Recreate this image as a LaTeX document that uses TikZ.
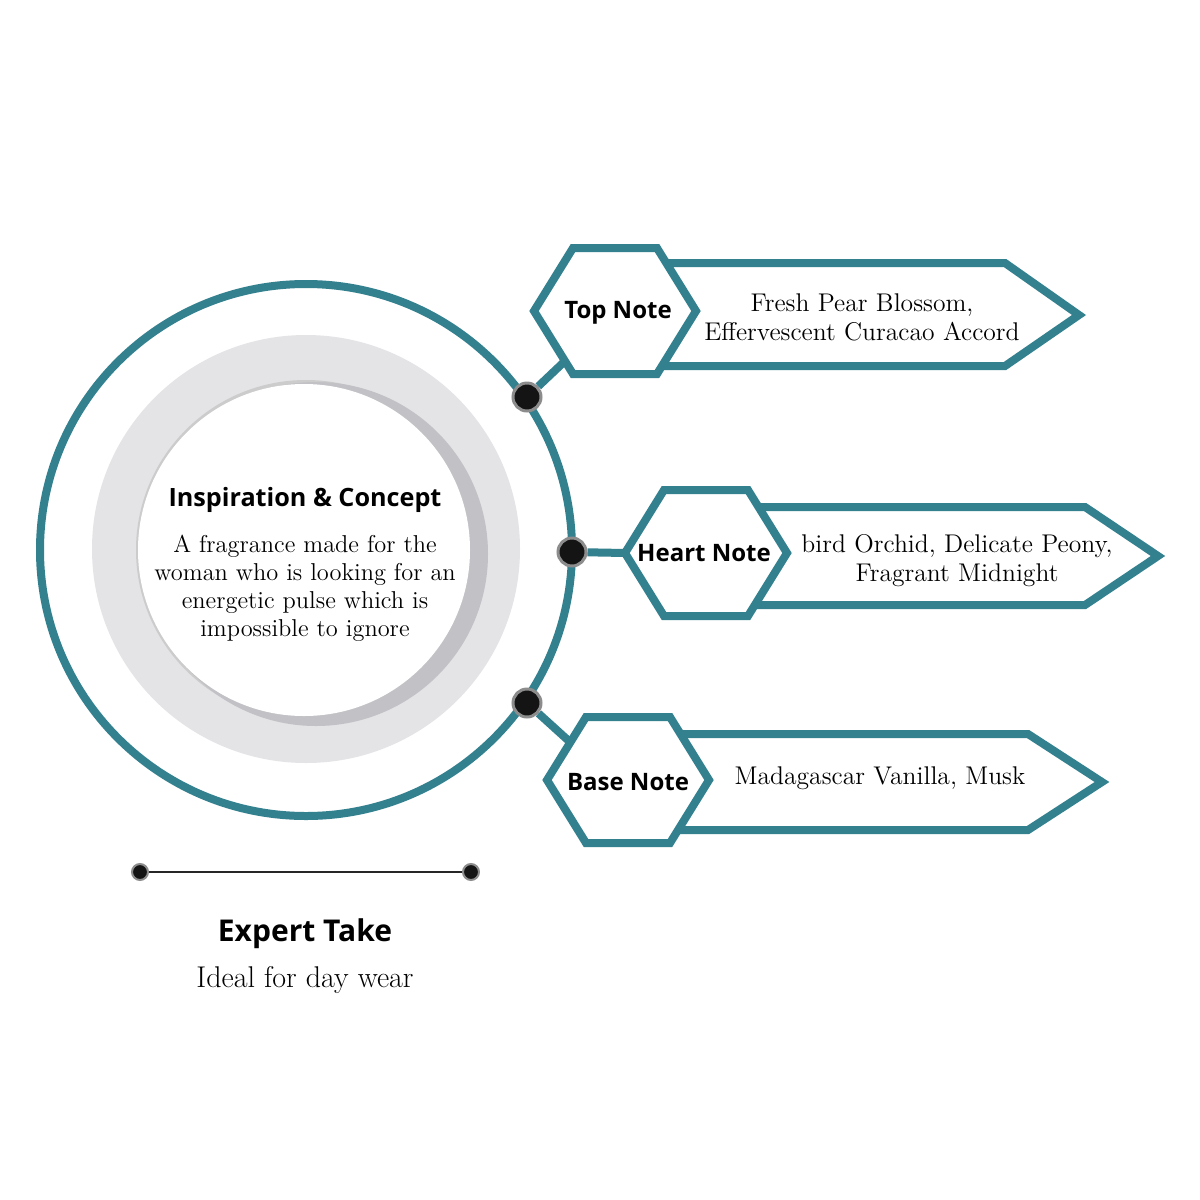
\documentclass[tikz,border=0pt]{standalone}
\usepackage{fontspec}
\usepackage{tikz}
\usetikzlibrary{positioning}
\newfontfamily\headsf{Open Sans}
\definecolor{notecol}{HTML}{33808F}
\definecolor{ringgray}{HTML}{E4E4E7}
\definecolor{shadegray}{HTML}{C2C2C6}
\def\hd#1{{\headsf\bfseries #1}}

\begin{document}
\begin{tikzpicture}[x=0.5pt, y=-0.5pt,
    orbit/.style={draw=notecol, line width=4pt},
    notearrow/.style={draw=notecol, fill=white, line width=4pt, line join=miter},
    linkline/.style={draw=notecol, line width=4pt},
    bigdot/.style={circle, inner sep=0pt, minimum size=14pt, fill=black!92, draw=black!45, line width=1.5pt},
    enddot/.style={circle, inner sep=0pt, minimum size=8pt, fill=black!92, draw=black!45, line width=1pt},
    notetitle/.style={font=\headsf\bfseries\fontsize{12}{14}\selectfont},
    notetext/.style={align=center, font=\fontsize{12.8}{14.5}\selectfont}]
    \useasboundingbox[fill=white] (0,0) rectangle (1200,1200);

    % centre disc
    \fill[ringgray] (306,549) circle (214);
    \fill[black!20] (306,550) circle (170);
    \fill[shadegray] (316,554) circle (172);
    \fill[white] (304,550) circle (166);
    \draw[orbit] (306,550) circle (266);
    \node[notetitle, font=\headsf\bfseries\fontsize{12.6}{15}\selectfont] (insp) at (305,500) {Inspiration \& Concept};
    \node[notetext, font=\fontsize{12.2}{14}\selectfont, below=4pt of insp] (idea) {A fragrance made for the\\woman who is looking for an\\energetic pulse which is\\impossible to ignore};

    % dots on the ring
    \node[bigdot] (dtop) at (527,397) {};
    \node[bigdot] (dmid) at (572,552) {};
    \node[bigdot] (dbot) at (527,703) {};

    % top note
    \begin{scope}[shift={(615,311)}]
      \coordinate (ttop) at (-50,50);
      \draw[notearrow] (30,-48) -- (390,-48) -- (464,4) -- (390,55) -- (30,55) -- cycle;
      \draw[linkline] (dtop) -- (ttop);
      \draw[notearrow] (-81,0) -- (-42,-63) -- (42,-63) -- (81,0) -- (42,63) -- (-42,63) -- cycle;
      \node[notetitle] (top) at (3,2) {Top Note};
      \node[notetext] (topx) at (247,6) {Fresh Pear Blossom,\\Effervescent Curacao Accord};
    \end{scope}

    % heart note
    \begin{scope}[shift={(706,553)}]
      \coordinate (thrt) at (-81,0);
      \draw[notearrow] (30,-46) -- (379,-46) -- (452,3) -- (379,52) -- (30,52) -- cycle;
      \draw[linkline] (dmid) -- (thrt);
      \draw[notearrow] (-81,0) -- (-42,-63) -- (42,-63) -- (81,0) -- (42,63) -- (-42,63) -- cycle;
      \node[notetitle] (hrt) at (-2,0) {Heart Note};
      \node[notetext] (hrtx) at (251,8) {bird Orchid, Delicate Peony,\\Fragrant Midnight};
    \end{scope}

    % base note
    \begin{scope}[shift={(628,780)}]
      \coordinate (tbas) at (-58,-38);
      \draw[notearrow] (30,-46) -- (400,-46) -- (474,2) -- (400,50) -- (30,50) -- cycle;
      \draw[linkline] (dbot) -- (tbas);
      \draw[notearrow] (-81,0) -- (-42,-63) -- (42,-63) -- (81,0) -- (42,63) -- (-42,63) -- cycle;
      \node[notetitle] (bas) at (0,2) {Base Note};
      \node[notetext] (basx) at (252,-2) {Madagascar Vanilla, Musk};
    \end{scope}

    % expert take
    \node[enddot] (el) at (140,872) {};
    \node[enddot] (er) at (471,872) {};
    \draw[black!85, line width=1pt] (el) -- (er);
    \node[notetitle, font=\headsf\bfseries\fontsize{15}{18}\selectfont] (exp) at (305,934) {Expert Take};
    \node[notetext, font=\fontsize{15}{18}\selectfont] (wear) at (305,980) {Ideal for day wear};
  \end{tikzpicture}
\end{document}
